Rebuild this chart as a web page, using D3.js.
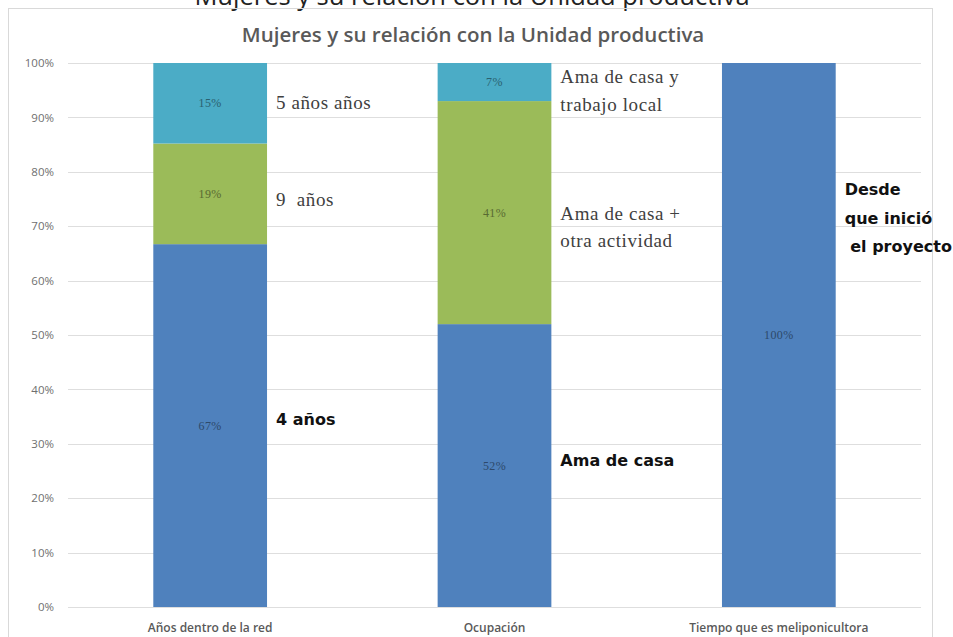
<!DOCTYPE html>
<html>
<head>
<meta charset="utf-8">
<script src="https://cdn.jsdelivr.net/npm/d3@7"></script>
<style>
  body { margin: 0; background: #fff; }
  svg { display: block; }
</style>
</head>
<body>
<div id="chart"></div>
<script>
const categories = ["Años dentro de la red", "Ocupación", "Tiempo que es meliponicultora"];
const seriesNames = ["s1", "s2", "s3"];
// % values per category (bottom, middle, top)
const bottomValues = [66.7, 52, 100];
const middleValues = [18.5, 41, 0];
const topValues = [14.8, 7, 0];
const yTicks = [0, 10, 20, 30, 40, 50, 60, 70, 80, 90, 100];
const colors = ["#4f81bd", "#9bbb59", "#4bacc6"];

// annotation texts: [category index, value (%) position, text, style]
const notes = [
  [0, 92.8, "5 años años", "serif"],
  [0, 75, "9  años", "serif"],
  [0, 34.5, "4 años", "bold"],
  [1, 97.6, "Ama de casa y", "serif"],
  [1, 92.4, "trabajo local", "serif"],
  [1, 72.4, "Ama de casa +", "serif"],
  [1, 67.4, "otra actividad", "serif"],
  [1, 27, "Ama de casa", "bold"],
  [2, 76.8, "Desde", "bold"],
  [2, 71.4, "que inició", "bold"],
  [2, 66.2, " el proyecto", "bold"],
];

const width = 953, height = 637;
const svg = d3.select("#chart").append("svg")
  .attr("width", width).attr("height", height);

// outer (cropped) title
svg.append("text")
  .attr("x", 472).attr("y", 5)
  .attr("text-anchor", "middle")
  .attr("font-family", "Open Sans, sans-serif")
  .attr("font-size", 25.5)
  .attr("fill", "#222")
  .text("Mujeres y su relación con la Unidad productiva");

// chart frame
svg.append("rect")
  .attr("x", 8.5).attr("y", 8.5)
  .attr("width", 924).attr("height", 640)
  .attr("fill", "none")
  .attr("stroke", "#d9d9d9");

svg.append("text")
  .attr("x", 473).attr("y", 42)
  .attr("text-anchor", "middle")
  .attr("font-family", "Open Sans, sans-serif")
  .attr("font-size", 20.5)
  .attr("font-weight", 600)
  .attr("fill", "#595959")
  .text("Mujeres y su relación con la Unidad productiva");

const x = d3.scaleBand().domain(categories).range([68, 921])
  .paddingInner(0.6).paddingOuter(0.3);
const y = d3.scaleLinear().domain([0, 100]).range([607, 63]);

// gridlines
svg.append("g")
  .selectAll("line")
  .data(yTicks)
  .join("line")
  .attr("x1", 68).attr("x2", 921)
  .attr("y1", d => Math.round(y(d)) + 0.5)
  .attr("y2", d => Math.round(y(d)) + 0.5)
  .attr("stroke", "#dedede");

// y axis labels
const yAxis = svg.append("g")
  .attr("transform", "translate(54,0)")
  .call(d3.axisLeft(y).tickValues(yTicks).tickFormat(d => d + "%").tickSize(0).tickPadding(0));
yAxis.select(".domain").remove();
yAxis.selectAll("text")
  .attr("font-family", "Open Sans, sans-serif")
  .attr("font-size", 11.5)
  .attr("fill", "#6f6f6f");

// stacked bars
const table = categories.map((c, i) => ({
  cat: c, s1: bottomValues[i], s2: middleValues[i], s3: topValues[i],
}));
const stack = d3.stack().keys(seriesNames)(table);

const layer = svg.append("g")
  .selectAll("g")
  .data(stack)
  .join("g")
  .attr("fill", (d, i) => colors[i]);

layer.selectAll("rect")
  .data(d => d.filter(p => p[1] - p[0] > 0))
  .join("rect")
  .attr("x", d => x(d.data.cat))
  .attr("width", x.bandwidth())
  .attr("y", d => y(d[1]))
  .attr("height", d => y(d[0]) - y(d[1]));

layer.selectAll("text")
  .data((d, i) => d.filter(p => p[1] - p[0] > 0).map(p => ({ p, i })))
  .join("text")
  .attr("x", d => x(d.p.data.cat) + x.bandwidth() / 2)
  .attr("y", d => y((d.p[0] + d.p[1]) / 2))
  .attr("dy", "0.35em")
  .attr("text-anchor", "middle")
  .attr("font-family", "Liberation Serif, serif")
  .attr("font-size", 12)
  .attr("letter-spacing", 0.4)
  .attr("fill", d => d3.color(colors[d.i]).darker(1.6))
  .text(d => Math.round(d.p[1] - d.p[0]) + "%");

// x axis labels
svg.append("g")
  .selectAll("text")
  .data(categories)
  .join("text")
  .attr("x", d => x(d) + x.bandwidth() / 2)
  .attr("y", 632)
  .attr("text-anchor", "middle")
  .attr("font-family", "Open Sans, sans-serif")
  .attr("font-size", 12)
  .attr("font-weight", 600)
  .attr("fill", "#595959")
  .text(d => d);

// annotations
svg.append("g")
  .selectAll("text")
  .data(notes)
  .join("text")
  .attr("x", d => x(categories[d[0]]) + x.bandwidth() + 9)
  .attr("y", d => y(d[1]))
  .attr("dy", "0.35em")
  .attr("xml:space", "preserve")
  .style("white-space", "pre")
  .attr("font-family", d => d[3] === "bold" ? "DejaVu Sans, sans-serif" : "Liberation Serif, serif")
  .attr("font-weight", d => d[3] === "bold" ? 700 : 400)
  .attr("font-size", d => d[3] === "bold" ? 16 : 19)
  .attr("letter-spacing", d => d[3] === "bold" ? 0 : 0.6)
  .attr("fill", d => d[3] === "bold" ? "#111" : "#404040")
  .text(d => d[2]);
</script>
</body>
</html>
